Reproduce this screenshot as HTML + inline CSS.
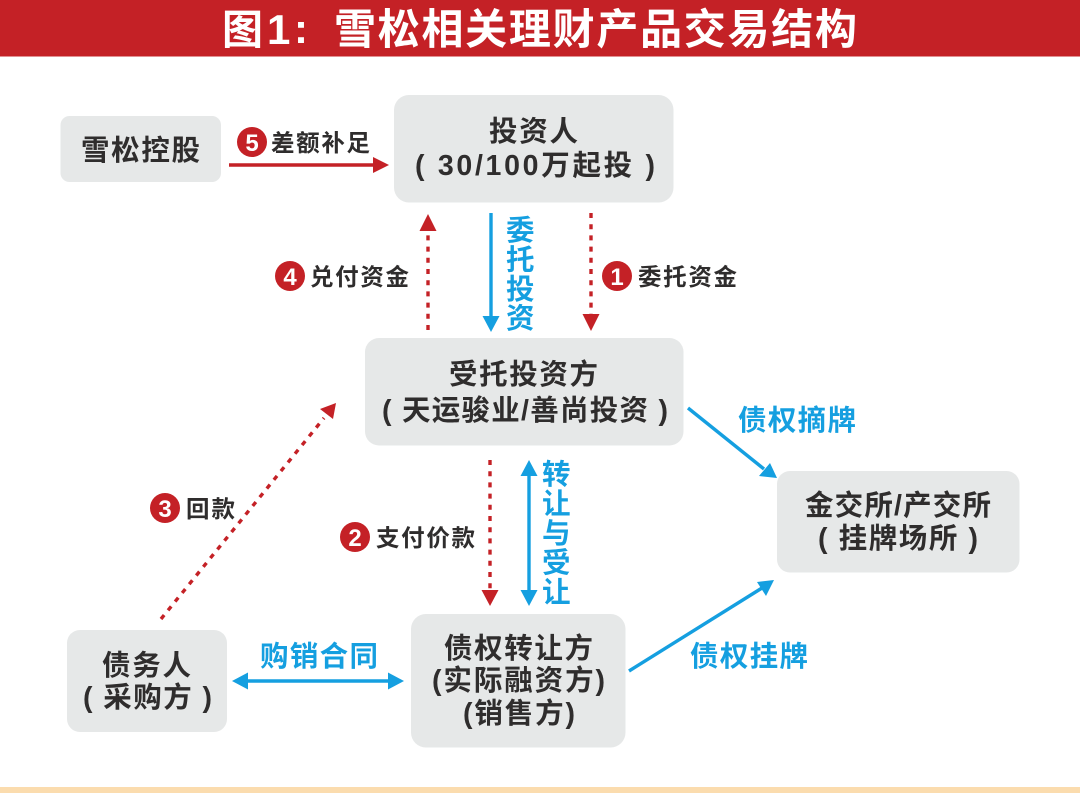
<!DOCTYPE html>
<html lang="zh">
<head>
<meta charset="utf-8">
<style>
html,body{margin:0;padding:0;background:#fff;}
svg{display:block;}
text{font-family:"Liberation Sans","Noto Sans CJK SC",sans-serif;font-weight:700;dominant-baseline:alphabetic;}
.n{fill:#2f2d2d;font-size:28.5px;}
.l{fill:#2f2d2d;font-size:23.5px;}
.b{fill:#159fe0;font-size:28.5px;}
.c{fill:#fff;font-size:24px;text-anchor:middle;}
.box{fill:#e6e8e8;}
.rd{stroke:#c42126;stroke-width:3.4;stroke-dasharray:5 6.2;fill:none;}
.bl{stroke:#159fe0;stroke-width:3.4;fill:none;}
</style>
</head>
<body>
<svg width="1080" height="793" viewBox="0 0 1080 793" xmlns="http://www.w3.org/2000/svg">
<rect width="1080" height="793" fill="#fff"/>
<rect x="0" y="0" width="1080" height="56.5" fill="#c42126"/>
<text x="222" y="44" font-size="41" fill="#fff">图</text>
<text x="267" y="44" font-size="42" fill="#fff">1</text>
<text x="294" y="43" font-size="42" fill="#fff">:</text>
<text x="334" y="44" font-size="42" fill="#fff" textLength="523">雪松相关理财产品交易结构</text>
<rect x="0" y="787" width="1080" height="6" fill="#fbdcae"/>

<rect class="box" x="60.5" y="116" width="160.5" height="66" rx="9"/>
<rect class="box" x="394" y="95" width="279.5" height="107.5" rx="15"/>
<rect class="box" x="365" y="338" width="318.5" height="107.5" rx="14"/>
<rect class="box" x="777" y="471" width="242.5" height="101.5" rx="13"/>
<rect class="box" x="67" y="630" width="160" height="102" rx="13"/>
<rect class="box" x="411" y="614" width="214.5" height="133.5" rx="15"/>

<text class="n" x="81" y="160" textLength="119">雪松控股</text>
<text class="n" x="489" y="141" textLength="89">投资人</text>
<text class="n" x="415" y="175" textLength="240">( 30/100万起投 )</text>
<text class="n" x="449" y="384" textLength="149">受托投资方</text>
<text class="n" x="382" y="420" textLength="286">( 天运骏业/善尚投资 )</text>
<text class="n" x="805" y="515" textLength="186">金交所/产交所</text>
<text class="n" x="818" y="548" textLength="160">( 挂牌场所 )</text>
<text class="n" x="102" y="675" textLength="89">债务人</text>
<text class="n" x="83" y="707" textLength="129">( 采购方 )</text>
<text class="n" x="444" y="658" textLength="149">债权转让方</text>
<text class="n" x="432" y="690" textLength="173">(实际融资方)</text>
<text class="n" x="463" y="723" textLength="112">(销售方)</text>

<line x1="229" y1="165" x2="376" y2="165" stroke="#c42126" stroke-width="3.4"/>
<polygon points="373,157 373,173 389,165" fill="#c42126"/>

<line class="rd" x1="428" y1="330" x2="428" y2="228"/>
<polygon points="419.5,231 436.5,231 428,214" fill="#c42126"/>
<line class="rd" x1="591" y1="213" x2="591" y2="316"/>
<polygon points="582.5,314 599.5,314 591,331" fill="#c42126"/>
<line class="rd" x1="490" y1="460" x2="490" y2="592"/>
<polygon points="481.5,590 498.5,590 490,606" fill="#c42126"/>
<line class="rd" x1="161" y1="619" x2="324" y2="418"/>
<polygon points="320,409 333,419 336,403" fill="#c42126"/>

<line class="bl" x1="491" y1="213" x2="491" y2="318"/>
<polygon points="482.5,316 499.5,316 491,332" fill="#159fe0"/>
<line class="bl" x1="529" y1="474" x2="529" y2="592"/>
<polygon points="520.5,476 537.5,476 529,460" fill="#159fe0"/>
<polygon points="520.5,590 537.5,590 529,606" fill="#159fe0"/>
<line class="bl" x1="246" y1="681" x2="390" y2="681"/>
<polygon points="248,672.5 248,689.5 232,681" fill="#159fe0"/>
<polygon points="388,672.5 388,689.5 404,681" fill="#159fe0"/>
<line class="bl" x1="688" y1="408" x2="764" y2="469"/>
<polygon points="759,476 770,463 777,478" fill="#159fe0"/>
<line class="bl" x1="629" y1="671" x2="762" y2="588"/>
<polygon points="757,582 766,596 774,580" fill="#159fe0"/>

<circle cx="252" cy="142" r="15" fill="#c42126"/><text class="c" x="252" y="151">5</text>
<circle cx="290" cy="276" r="15" fill="#c42126"/><text class="c" x="290" y="285">4</text>
<circle cx="617" cy="276" r="15" fill="#c42126"/><text class="c" x="617" y="285">1</text>
<circle cx="165" cy="508" r="15" fill="#c42126"/><text class="c" x="165" y="517">3</text>
<circle cx="355" cy="537" r="15" fill="#c42126"/><text class="c" x="355" y="546">2</text>

<text class="l" x="271" y="151" textLength="99">差额补足</text>
<text class="l" x="310" y="285" textLength="99">兑付资金</text>
<text class="l" x="638" y="285" textLength="99">委托资金</text>
<text class="l" x="186" y="517" textLength="49">回款</text>
<text class="l" x="376" y="546" textLength="99">支付价款</text>

<text class="b" x="506" y="240">委</text>
<text class="b" x="506" y="269.5">托</text>
<text class="b" x="506" y="299">投</text>
<text class="b" x="506" y="328">资</text>
<text class="b" x="542" y="484">转</text>
<text class="b" x="542" y="513.5">让</text>
<text class="b" x="542" y="543">与</text>
<text class="b" x="542" y="572.5">受</text>
<text class="b" x="542" y="602">让</text>
<text class="b" x="260" y="666" textLength="118">购销合同</text>
<text class="b" x="738" y="430" textLength="118">债权摘牌</text>
<text class="b" x="690" y="666" textLength="118">债权挂牌</text>
</svg>
</body>
</html>
